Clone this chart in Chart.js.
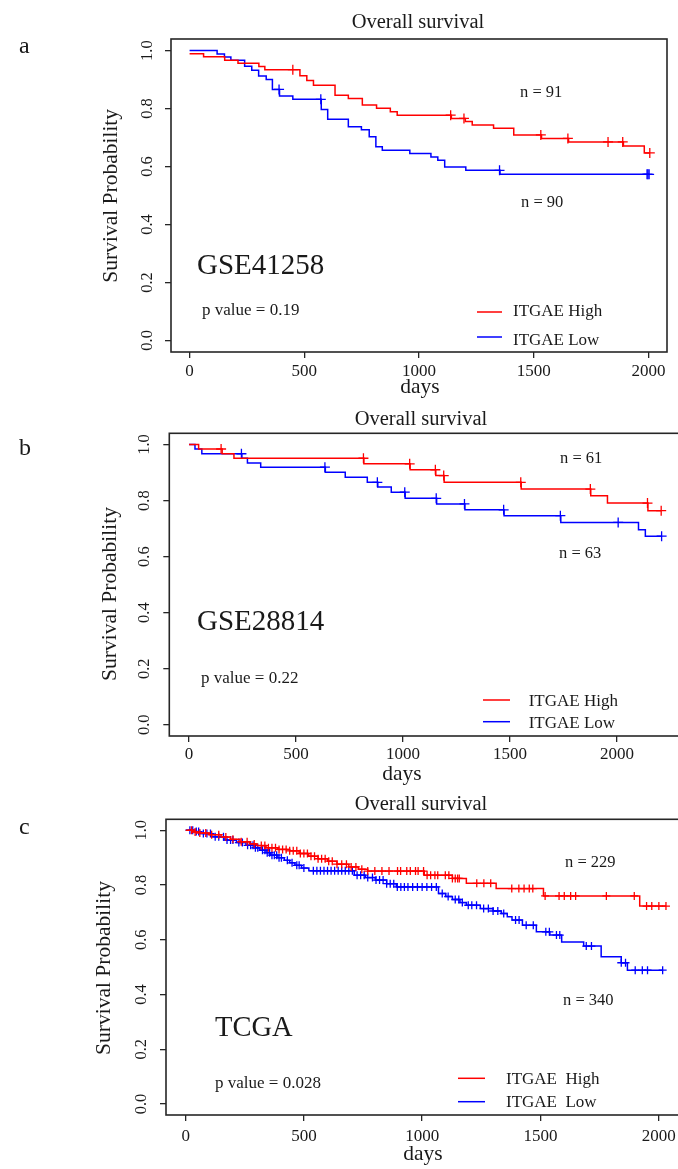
<!DOCTYPE html>
<html>
<head>
<meta charset="utf-8">
<script src="https://cdn.jsdelivr.net/npm/chart.js@4.4.1/dist/chart.umd.min.js"></script>
<style>
  html, body { margin: 0; padding: 0; background: #fff; }
  body { width: 678px; height: 1169px; overflow: hidden; position: relative; }
  canvas { position: absolute; left: 0; }
</style>
</head>
<body>
<canvas id="panelA" width="710" height="400" style="top:0px"></canvas>
<canvas id="panelB" width="710" height="390" style="top:400px"></canvas>
<canvas id="panelC" width="710" height="379" style="top:790px"></canvas>
<script>
// axis ticks shared by the three panels
const xTicks = [0, 500, 1000, 1500, 2000];
const xTickLabels = ["0", "500", "1000", "1500", "2000"];
const yTicks = [0, 0.2, 0.4, 0.6, 0.8, 1.0];
const yTickLabels = ["0.0", "0.2", "0.4", "0.6", "0.8", "1.0"];

// a: GSE41258
const aHighTime = [0, 61, 153, 211, 302, 328, 481, 511, 540, 634, 692, 753, 815, 875, 905, 1141, 1202, 1232, 1325, 1413, 1534, 1652, 1891, 1982, 2006];
const aHighSurv = [0.989, 0.979, 0.967, 0.956, 0.945, 0.934, 0.913, 0.897, 0.88, 0.846, 0.835, 0.812, 0.801, 0.789, 0.777, 0.766, 0.755, 0.743, 0.732, 0.709, 0.697, 0.685, 0.671, 0.647, 0.647];
const aHighCensor = [450, 1138, 1196, 1531, 1649, 1824, 1888, 2006];
const aLowTime = [0, 120, 152, 180, 240, 271, 301, 334, 361, 392, 450, 574, 602, 692, 749, 783, 812, 840, 960, 1052, 1082, 1112, 1204, 1353, 2003];
const aLowSurv = [1.0, 0.988, 0.978, 0.967, 0.946, 0.932, 0.912, 0.9, 0.866, 0.843, 0.832, 0.797, 0.763, 0.737, 0.727, 0.703, 0.668, 0.656, 0.645, 0.633, 0.622, 0.598, 0.587, 0.573, 0.573];
const aLowCensor = [390, 572, 1351, 1994, 1998, 2003];

// b: GSE28814
const bHighTime = [0, 45, 155, 210, 817, 1033, 1153, 1192, 1552, 1877, 1955, 2144, 2206];
const bHighSurv = [1.0, 0.984, 0.967, 0.951, 0.931, 0.910, 0.889, 0.865, 0.841, 0.817, 0.791, 0.764, 0.764];
const bHighCensor = [150, 815, 1031, 1151, 1190, 1550, 1875, 2142, 2206];
const bLowTime = [0, 28, 60, 247, 273, 335, 637, 730, 833, 882, 945, 1010, 1157, 1289, 1472, 1737, 2100, 2132, 2208];
const bLowSurv = [1.0, 0.984, 0.967, 0.951, 0.934, 0.919, 0.901, 0.883, 0.865, 0.848, 0.83, 0.808, 0.788, 0.767, 0.746, 0.722, 0.696, 0.673, 0.673];
const bLowCensor = [245, 635, 880, 1008, 1155, 1287, 1470, 1735, 2005, 2208];

// c: TCGA
const cHighTime = [0, 30, 60, 100, 150, 190, 230, 270, 300, 340, 390, 440, 480, 520, 560, 600, 640, 690, 730, 770, 1009, 1128, 1187, 1313, 1513, 1920, 2031];
const cHighSurv = [1.0, 0.994, 0.99, 0.984, 0.975, 0.967, 0.958, 0.95, 0.944, 0.936, 0.93, 0.925, 0.915, 0.905, 0.896, 0.887, 0.876, 0.866, 0.858, 0.851, 0.836, 0.824, 0.806, 0.787, 0.76, 0.723, 0.723];
const cHighCensor = [25, 40, 60, 85, 110, 140, 170, 200, 235, 260, 290, 320, 335, 350, 365, 380, 395, 410, 425, 440, 455, 470, 485, 500, 515, 530, 545, 560, 575, 590, 605, 620, 640, 660, 680, 700, 720, 745, 770, 800, 830, 860, 896, 909, 935, 950, 972, 983, 1006, 1021, 1036, 1054, 1066, 1098, 1113, 1128, 1140, 1150, 1157, 1231, 1261, 1290, 1379, 1409, 1431, 1453, 1468, 1520, 1579, 1601, 1628, 1649, 1779, 1897, 1949, 1971, 2001, 2031];
const cLowTime = [0, 35, 62, 110, 166, 215, 255, 290, 314, 340, 360, 390, 417, 440, 462, 490, 521, 713, 760, 802, 850, 891, 1069, 1100, 1128, 1160, 1187, 1246, 1300, 1335, 1360, 1380, 1424, 1483, 1540, 1590, 1683, 1757, 1842, 1868, 2017];
const cLowSurv = [1.0, 0.995, 0.988, 0.976, 0.964, 0.955, 0.945, 0.936, 0.927, 0.918, 0.909, 0.9, 0.89, 0.881, 0.872, 0.862, 0.852, 0.836, 0.827, 0.818, 0.805, 0.793, 0.769, 0.758, 0.747, 0.736, 0.726, 0.714, 0.705, 0.696, 0.684, 0.672, 0.653, 0.629, 0.617, 0.592, 0.577, 0.538, 0.516, 0.489, 0.489];
const cLowCensor = [18, 30, 45, 55, 75, 90, 105, 125, 140, 160, 175, 190, 200, 225, 240, 262, 275, 285, 295, 305, 325, 335, 345, 355, 365, 375, 385, 395, 405, 430, 450, 470, 480, 500, 540, 555, 570, 585, 600, 615, 630, 645, 660, 675, 690, 705, 725, 740, 755, 770, 790, 805, 820, 835, 850, 865, 880, 895, 910, 925, 940, 960, 980, 1000, 1020, 1040, 1060, 1085, 1110, 1140, 1155, 1170, 1195, 1210, 1230, 1260, 1280, 1300, 1320, 1345, 1395, 1410, 1440, 1470, 1523, 1538, 1568, 1582, 1694, 1716, 1842, 1860, 1901, 1931, 1953, 2017];

const RED = "#ff0000";
const BLUE = "#0000ff";
const INK = "#1a1a1a";
const SERIF = '"Liberation Serif", "Times New Roman", serif';

function survAt(times, surv, t) {
  let v = surv[0];
  for (let i = 0; i < times.length; i++) {
    if (times[i] <= t) v = surv[i];
  }
  return v;
}
const stepPoints = (times, surv) => times.map((t, i) => ({ x: t, y: surv[i] }));
const censorPoints = (times, surv, cens) => cens.map(t => ({ x: t, y: survAt(times, surv, t) }));

// box, rotated y labels, titles and annotations
const kmText = {
  id: "kmText",
  afterDraw(chart, args, o) {
    const ctx = chart.ctx;
    const { left, top, right, bottom } = chart.chartArea;
    const ys = chart.scales.y;
    ctx.save();
    ctx.strokeStyle = "#262626";
    ctx.lineWidth = 1.6;
    ctx.strokeRect(left, top, right - left, bottom - top);

    ctx.fillStyle = INK;
    ctx.textBaseline = "alphabetic";
    ctx.textAlign = "center";
    ctx.font = "16.5px " + SERIF;
    yTicks.forEach((v, i) => {
      ctx.save();
      ctx.translate(o.yTickX, ys.getPixelForValue(v));
      ctx.rotate(-Math.PI / 2);
      ctx.fillText(yTickLabels[i], 0, 0);
      ctx.restore();
    });

    ctx.save();
    ctx.font = "21.5px " + SERIF;
    ctx.translate(o.yTitle[0], o.yTitle[1]);
    ctx.rotate(-Math.PI / 2);
    ctx.fillText("Survival Probability", 0, 0);
    ctx.restore();

    ctx.font = "20.5px " + SERIF;
    ctx.fillText("Overall survival", o.title[0], o.title[1]);
    ctx.font = "21.5px " + SERIF;
    ctx.fillText("days", o.days[0], o.days[1]);

    ctx.textAlign = "left";
    o.texts.forEach(t => {
      ctx.font = t.size + "px " + SERIF;
      ctx.fillText(t.text, t.x, t.y);
    });

    const lg = o.legend;
    ctx.lineWidth = 1.5;
    ctx.font = "17px " + SERIF;
    lg.rows.forEach(r => {
      ctx.strokeStyle = r.color;
      ctx.beginPath();
      ctx.moveTo(lg.x1, r.lineY);
      ctx.lineTo(lg.x2, r.lineY);
      ctx.stroke();
      ctx.fillText(r.label, lg.textX, r.textY);
    });
    ctx.restore();
  }
};

function drawPanel(id, p) {
  const grid = { drawOnChartArea: false, drawTicks: true, tickLength: 6, color: "#262626", lineWidth: 1.3 };
  return new Chart(document.getElementById(id), {
    type: "line",
    data: {
      datasets: [
        { data: stepPoints(p.highTime, p.highSurv), borderColor: RED, borderWidth: 1.5, stepped: true, pointRadius: 0, fill: false },
        { type: "scatter", data: censorPoints(p.highTime, p.highSurv, p.highCensor), pointStyle: "cross", pointRadius: p.mark, borderColor: RED, borderWidth: 1.3 },
        { data: stepPoints(p.lowTime, p.lowSurv), borderColor: BLUE, borderWidth: 1.5, stepped: true, pointRadius: 0, fill: false },
        { type: "scatter", data: censorPoints(p.lowTime, p.lowSurv, p.lowCensor), pointStyle: "cross", pointRadius: p.mark, borderColor: BLUE, borderWidth: 1.3 }
      ]
    },
    options: {
      responsive: false,
      animation: false,
      devicePixelRatio: 1,
      layout: { padding: p.pad },
      plugins: { legend: { display: false }, tooltip: { enabled: false }, kmText: p.notes },
      scales: {
        x: {
          type: "linear", min: p.xMin, max: p.xMax,
          afterBuildTicks: s => { s.ticks = xTicks.map(v => ({ value: v })); },
          afterFit: s => { s.height = 40; },
          grid: grid, border: { display: false },
          ticks: { autoSkip: false, maxRotation: 0, padding: p.xLabelPad, color: INK, font: { family: SERIF, size: 17 },
                   callback: (v, i) => xTickLabels[i] }
        },
        y: {
          type: "linear", min: -0.04, max: 1.04,
          afterBuildTicks: s => { s.ticks = yTicks.map(v => ({ value: v })); },
          afterFit: s => { s.width = 6; },
          grid: grid, border: { display: false },
          ticks: { display: false }
        }
      }
    },
    plugins: [kmText]
  });
}

drawPanel("panelA", {
  highTime: aHighTime, highSurv: aHighSurv, highCensor: aHighCensor,
  lowTime: aLowTime, lowSurv: aLowSurv, lowCensor: aLowCensor,
  xMin: -81, xMax: 2081, mark: 5, xLabelPad: 3.2,
  pad: { left: 165, top: 39, right: 43, bottom: 8 },
  notes: {
    yTickX: 151.5, yTitle: [117, 195.8], title: [418, 27.5], days: [420, 393],
    texts: [
      { text: "a", x: 19, y: 53, size: 24 },
      { text: "n = 91", x: 520, y: 97, size: 16.5 },
      { text: "n = 90", x: 521, y: 207, size: 16.5 },
      { text: "GSE41258", x: 197, y: 274, size: 29 },
      { text: "p value = 0.19", x: 202, y: 315, size: 17 }
    ],
    legend: { x1: 477, x2: 502, textX: 513, rows: [
      { label: "ITGAE High", color: RED, lineY: 312, textY: 316 },
      { label: "ITGAE Low", color: BLUE, lineY: 337, textY: 345 }
    ] }
  }
});

drawPanel("panelB", {
  highTime: bHighTime, highSurv: bHighSurv, highCensor: bHighCensor,
  lowTime: bLowTime, lowSurv: bLowSurv, lowCensor: bLowCensor,
  xMin: -92, xMax: 2392, mark: 5, xLabelPad: 2.2,
  pad: { left: 163.3, top: 33.3, right: 9, bottom: 14 },
  notes: {
    yTickX: 149.3, yTitle: [116, 194], title: [421, 25], days: [402, 380],
    texts: [
      { text: "b", x: 19, y: 55, size: 24 },
      { text: "n = 61", x: 560, y: 63.3, size: 16.5 },
      { text: "n = 63", x: 559, y: 158.3, size: 16.5 },
      { text: "GSE28814", x: 197, y: 230, size: 29 },
      { text: "p value = 0.22", x: 201, y: 282.7, size: 17 }
    ],
    legend: { x1: 483, x2: 510, textX: 528.7, rows: [
      { label: "ITGAE High", color: RED, lineY: 300, textY: 306 },
      { label: "ITGAE Low", color: BLUE, lineY: 321.7, textY: 328.3 }
    ] }
  }
});

drawPanel("panelC", {
  highTime: cHighTime, highSurv: cHighSurv, highCensor: cHighCensor,
  lowTime: cLowTime, lowSurv: cLowSurv, lowCensor: cLowCensor,
  xMin: -83, xMax: 2158, mark: 4, xLabelPad: 5.2,
  pad: { left: 160, top: 29.3, right: 14, bottom: 14 },
  notes: {
    yTickX: 146, yTitle: [109.5, 178], title: [421, 20], days: [423, 370],
    texts: [
      { text: "c", x: 19, y: 44, size: 24 },
      { text: "n = 229", x: 565, y: 77, size: 16.5 },
      { text: "n = 340", x: 563, y: 215, size: 16.5 },
      { text: "TCGA", x: 215, y: 246, size: 28.5 },
      { text: "p value = 0.028", x: 215, y: 298, size: 17 }
    ],
    legend: { x1: 458, x2: 485, textX: 506, rows: [
      { label: "ITGAE  High", color: RED, lineY: 288.3, textY: 294 },
      { label: "ITGAE  Low", color: BLUE, lineY: 311.7, textY: 317 }
    ] }
  }
});
</script>
</body>
</html>
